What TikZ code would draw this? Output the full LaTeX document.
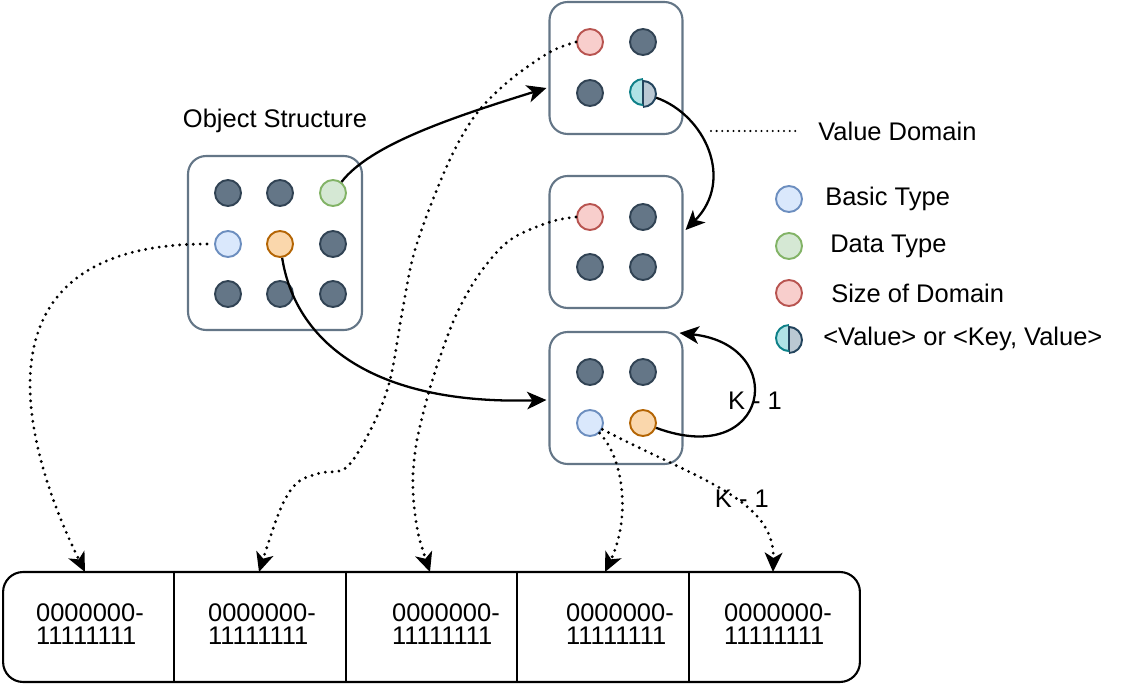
\documentclass[tikz,border=0pt]{standalone}
\usepackage{fontspec}
\setmainfont{Liberation Sans}
\usetikzlibrary{arrows.meta, positioning, calc}

\definecolor{slatefill}{HTML}{647687}
\definecolor{slateline}{HTML}{314354}
\definecolor{bluefill}{HTML}{DAE8FC}
\definecolor{blueline}{HTML}{6C8EBF}
\definecolor{greenfill}{HTML}{D5E8D4}
\definecolor{greenline}{HTML}{82B366}
\definecolor{redfill}{HTML}{F8CECC}
\definecolor{redline}{HTML}{B85450}
\definecolor{orangefill}{HTML}{FAD7AC}
\definecolor{orangeline}{HTML}{B46504}
\definecolor{tealfill}{HTML}{B0E3E6}
\definecolor{tealline}{HTML}{0E8088}
\definecolor{greyfill}{HTML}{BAC8D3}
\definecolor{greyline}{HTML}{23445D}
\definecolor{framecol}{HTML}{647687}

\begin{document}
\begin{tikzpicture}[x=0.02cm, y=-0.02cm, font=\fontsize{14.5}{13}\selectfont,
  anydot/.style={circle, minimum size=0.52cm, inner sep=0pt, line width=1.1pt},
  darkdot/.style={anydot, draw=slateline, fill=slatefill},
  basicdot/.style={anydot, draw=blueline, fill=bluefill},
  datadot/.style={anydot, draw=greenline, fill=greenfill},
  sizedot/.style={anydot, draw=redline, fill=redfill},
  orangedot/.style={anydot, draw=orangeline, fill=orangefill},
  valuedot/.style={anydot, path picture={
      \fill[tealfill] (path picture bounding box.south west) rectangle (path picture bounding box.north);
      \fill[greyfill] (path picture bounding box.south) rectangle (path picture bounding box.north east);
      \draw[greyline, line width=1.1pt] (path picture bounding box.south) -- (path picture bounding box.north);}},
  framebox/.style={draw=framecol, line width=1.2pt, rounded corners=0.36cm, fill=white},
  link/.style={-{Stealth[length=11pt, width=10pt, inset=3pt]}, line width=1.3pt},
  dotlink/.style={link, line width=1.8pt, dash pattern=on 0pt off 3.9pt, line cap=round},
  legtext/.style={inner sep=0pt, anchor=west},
  cell/.style={align=left, inner sep=0pt}]
  \useasboundingbox (0,0) rectangle (1134,686);

  % Object structure
  \node[framebox, minimum size=3.48cm] (os) at (275,243) {};
  \node (ostitle) at (275,121) {Object Structure};
  \node[darkdot]   (o11) at (228,193) {};
  \node[darkdot]   (o12) at (280,193) {};
  \node[datadot]   (o13) at (333,193) {};
  \node[basicdot]  (o21) at (228,244) {};
  \node[orangedot] (o22) at (280,244) {};
  \node[darkdot]   (o23) at (333,244) {};
  \node[darkdot]   (o31) at (228,294) {};
  \node[darkdot]   (o32) at (280,294) {};
  \node[darkdot]   (o33) at (333,294) {};

  % Value domains
  \node[framebox, minimum width=2.66cm, minimum height=2.64cm] (vd1) at (616,68) {};
  \node[framebox, minimum width=2.66cm, minimum height=2.64cm] (vd2) at (616,242) {};
  \node[framebox, minimum width=2.66cm, minimum height=2.64cm] (vd3) at (616,398) {};
  \node[sizedot]   (v1a) at (590,42) {};
  \node[darkdot]   (v1b) at (643,42) {};
  \node[darkdot]   (v1c) at (590,93) {};
  \node[valuedot]  (v1d) at (643,93) {};
  \node[sizedot]   (v2a) at (590,217) {};
  \node[darkdot]   (v2b) at (643,217) {};
  \node[darkdot]   (v2c) at (590,267) {};
  \node[darkdot]   (v2d) at (643,267) {};
  \node[darkdot]   (v3a) at (590,372) {};
  \node[darkdot]   (v3b) at (643,372) {};
  \node[basicdot]  (v3c) at (590,423) {};
  \node[orangedot] (v3d) at (643,423) {};

  % Legend
  \node[anchor=west, inner sep=0pt] (vdtext) at (818,131) {Value Domain};
  \coordinate (vdtail) at (711,131);
  \draw[line width=1.3pt, dash pattern=on 0pt off 3.2pt, line cap=round, shorten >=0.42cm] (vdtail) -- (vdtext.west);
  \node[basicdot]  (lg1) at (789,199) {};
  \node[datadot]   (lg2) at (789,246) {};
  \node[sizedot]   (lg3) at (789,293) {};
  \node[valuedot]  (lg4) at (789,339) {};
  \node[legtext, right=0.44cm of lg1] (lgt1) {Basic Type};
  \node[legtext, right=0.54cm of lg2] (lgt2) {Data Type};
  \node[legtext, right=0.56cm of lg3] (lgt3) {Size of Domain};
  \node[legtext, right=0.40cm of lg4] (lgt4) {<Value> or <Key, Value>};
  \foreach \h in {v1d, lg4} {
    \draw[tealline, line width=1.1pt] (\h.north) arc[start angle=90, end angle=270, radius=0.26cm];
    \draw[greyline, line width=1.1pt] (\h.south) arc[start angle=-90, end angle=90, radius=0.26cm];
  }

  % Storage bar
  \node[draw, line width=1.2pt, rounded corners=0.4cm, minimum width=17.14cm, minimum height=2.2cm] (bar) at (431.5,627) {};
  \foreach \f in {0.2,0.4,0.6,0.8}
    \draw[line width=1.2pt] ($(bar.north west)!\f!(bar.north east)$) -- ($(bar.south west)!\f!(bar.south east)$);
  \node[cell] (t1) at (90,624) {0000000-\\11111111};
  \node[cell] (t2) at (262,624) {0000000-\\11111111};
  \node[cell] (t3) at (446,624) {0000000-\\11111111};
  \node[cell] (t4) at (620,624) {0000000-\\11111111};
  \node[cell] (t5) at (778,624) {0000000-\\11111111};
  \coordinate (in1) at (85,572);
  \coordinate (in2) at (259,572);
  \coordinate (in3) at (430,572);
  \coordinate (in4) at (605,572);
  \coordinate (in5) at (773,572);

  % Solid links
  \draw[link] (o13) .. controls (370,145) and (450,118) .. ($(vd1.west)+(-2,20)$);
  \draw[link] (o22) .. controls (295,340) and (370,405) .. ($(vd3.west)+(-2,2)$);
  \draw[link] (v1d) .. controls (705,115) and (735,180) .. ($(vd2.east)+(2,-12)$);
  \draw[link] (v3d) .. controls (770,470) and (790,345) .. ($(vd3.north east)+(-4,2)$)
    node[pos=0.5, xshift=0.06cm] {K - 1};

  % Dotted links
  \draw[dotlink, shorten <=4pt] (o21) .. controls (-30,244) and (20,440) .. (in1);
  \draw[dotlink] plot[smooth, tension=0.55] coordinates {(v1a.west) (550,52) (510,80) (477,113) (453,153)
    (430,207) (413,257) (402,313) (390,380) (373,425) (347,467) (320,473) (297,483) (280,510) (in2)};
  \draw[dotlink] plot[smooth, tension=0.55] coordinates {(v2a.west) (550,222) (510,240) (480,273) (457,313)
    (440,357) (428,395) (417,440) (413,475) (414,505) (419,537) (in3)};
  \draw[dotlink] (v3c) .. controls (625,460) and (630,520) .. (in4);
  \draw[dotlink] (v3c) .. controls (700,480) and (775,500) .. (in5)
    node[pos=0.55, xshift=0.16cm] {K - 1};
\end{tikzpicture}
\end{document}
